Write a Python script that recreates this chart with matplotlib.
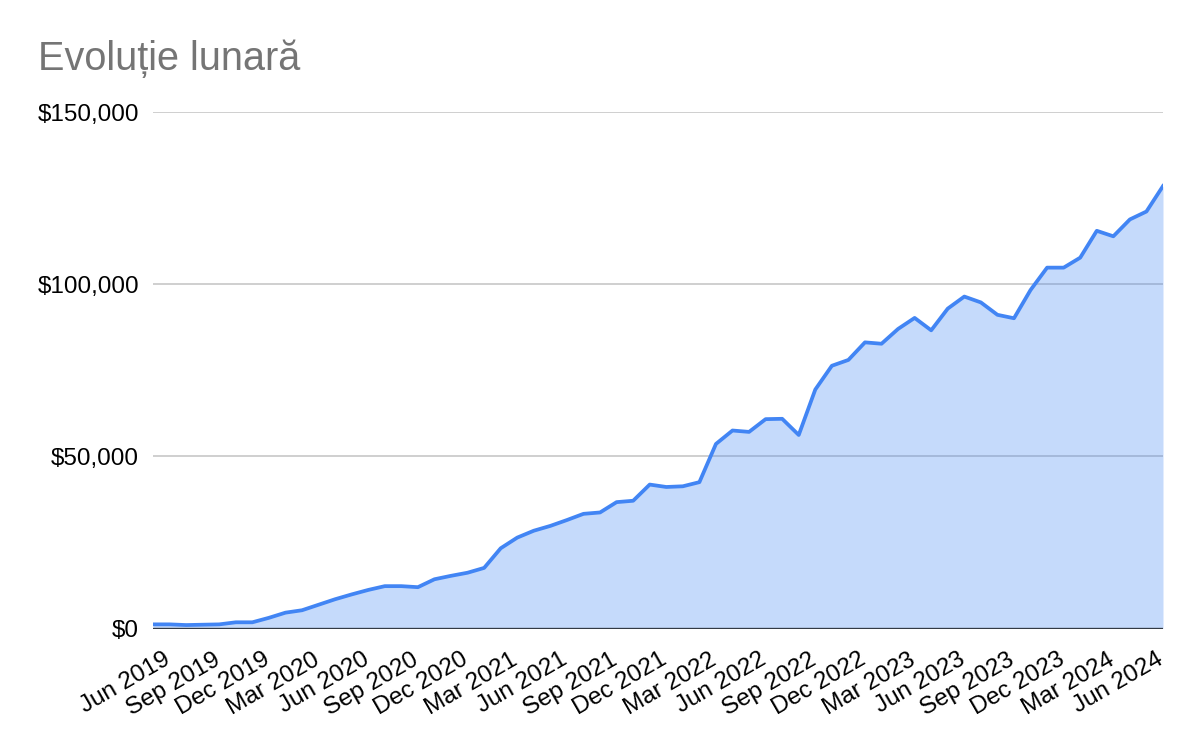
import numpy as np
import pandas as pd
import matplotlib
matplotlib.use("Agg")
import matplotlib.pyplot as plt
from matplotlib.ticker import FuncFormatter
from matplotlib.transforms import ScaledTranslation

plt.rcParams["font.family"] = ["Liberation Sans", "DejaVu Sans"]

# monthly totals, Jun 2019 .. Jul 2024 (thousands of $)
months = pd.date_range("2019-06-01", periods=62, freq="MS")
values_k = [1.2, 1.2, 1.0, 1.1, 1.2, 1.8, 1.8, 3.1, 4.6, 5.3,
            6.9, 8.5, 9.9, 11.2, 12.3, 12.3, 12.0, 14.3, 15.3, 16.2,
            17.6, 23.3, 26.4, 28.4, 29.8, 31.5, 33.3, 33.7, 36.7, 37.1,
            41.8, 41.1, 41.3, 42.5, 53.6, 57.5, 57.1, 60.8, 60.9, 56.2,
            69.4, 76.3, 78.0, 83.1, 82.7, 87.0, 90.2, 86.6, 92.9, 96.4,
            94.7, 91.1, 90.1, 98.3, 104.8, 104.8, 107.7, 115.5, 113.9, 118.8,
            121.1, 128.5]
values = np.array(values_k) * 1000
yticks = [0, 50000, 100000, 150000]
tick_idx = list(range(0, 61, 3))
tick_labels = [months[i].strftime("%b %Y") for i in tick_idx]

x = np.arange(len(months))
BLUE = "#4285F4"

fig = plt.figure(figsize=(12, 7.42), dpi=100)
ax = fig.add_axes([153/1200, 1-628.5/742, (1163-153)/1200, (628.5-112)/742])

for yv in yticks[1:]:
    ax.axhline(yv, color="#cccccc", lw=1.3, zorder=1)
ax.fill_between(x, values, 0, color=BLUE, alpha=0.3, lw=0, zorder=2)
ax.plot(x, values, color=BLUE, lw=2.7, zorder=3, solid_joinstyle="round")
ax.axhline(0, color="#333a44", lw=2.4, zorder=4)

ax.set_xlim(0, len(months) - 1)
ax.set_ylim(0, 150000)
ax.set_yticks(yticks)
ax.yaxis.set_major_formatter(FuncFormatter(lambda v, p: f"${v:,.0f}"))
ax.set_xticks(tick_idx)
ax.set_xticklabels(tick_labels, rotation=30, ha="right", va="top",
                   rotation_mode="anchor")
ax.tick_params(axis="both", length=0, labelsize=17.5, colors="#000000")
ax.tick_params(axis="y", pad=10)
ax.tick_params(axis="x", pad=14.5)
off = ScaledTranslation(10/100, 0, fig.dpi_scale_trans)
for lab in ax.get_xticklabels():
    lab.set_transform(lab.get_transform() + off)
for s in ax.spines.values():
    s.set_visible(False)

fig.text(38/1200, 1-70/742, "Evoluție lunară", fontsize=28.5, color="#757575",
         ha="left", va="baseline")

fig.savefig("out.png", dpi=100)
